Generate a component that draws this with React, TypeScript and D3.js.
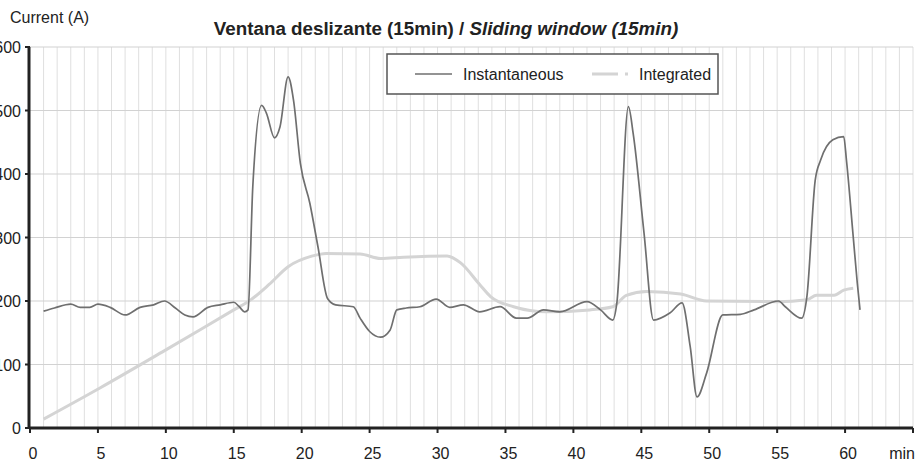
import React, { useRef, useEffect } from "react";
import * as d3 from "d3";

// Instantaneous current (minutes / amperes)
const instTime = [
  1, 1.8, 3, 3.7, 4.4, 5, 5.9, 7, 8.1, 9.1, 9.9, 10.7, 11.4, 12, 13.1, 14, 15,
  15.4, 15.8, 16.05, 16.4, 17.05, 17.4, 18, 18.4, 19, 19.4, 19.9, 20.6, 21.2,
  21.9, 22.5, 23.8, 24.3, 25, 25.8, 26.5, 27, 27.7, 28.7, 29.9, 30.9, 31.9,
  33.1, 34.6, 35.8, 36.6, 37.8, 39, 41, 42, 42.9, 43.2, 44.05, 44.4, 45.2,
  45.9, 47.1, 48, 48.6, 49.1, 49.8, 51, 52.3, 53.3, 55.1, 55.6, 56.8, 57.2,
  57.8, 58.2, 59.1, 59.9, 60.1, 60.6, 60.9, 61.1,
];
const instValue = [
  184, 189, 195, 190, 190, 195, 190, 178, 190, 194, 200, 189, 178, 175, 190,
  194, 198, 191, 183, 186, 380, 508, 496, 457, 474, 553, 516, 417, 354, 285,
  204, 194, 191, 173, 152, 143, 154, 186, 189, 191, 203, 190, 194, 183, 191,
  173, 173, 186, 183, 199, 186, 170, 197, 506, 464, 307, 170, 181, 197, 128,
  49, 86, 178, 179, 186, 200, 191, 173, 209, 390, 422, 454, 459, 422, 301,
  228, 186,
];

// Integrated (15 min sliding window)
const intTime = [
  1, 5.15, 10, 15, 16.2, 17.6, 19, 20.8, 21.8, 24.3, 25.8, 27.5, 30.7, 31.7,
  33.1, 33.9, 35.6, 38, 41.2, 42.9, 43.9, 45.4, 47.9, 49.8, 55, 57.2, 57.9,
  59.2, 59.9, 60.6,
];
const intValue = [
  14, 63, 123, 186, 201, 226, 254, 271, 275, 274, 267, 269, 271, 260, 226,
  207, 191, 183, 186, 191, 209, 215, 211, 200, 199, 202, 209, 209, 217, 220,
];

const xTicks = [0, 5, 10, 15, 20, 25, 30, 35, 40, 45, 50, 55, 60];
const yTicks = [0, 100, 200, 300, 400, 500, 600];

const W = 924;
const H = 466;
const FONT = "'Liberation Sans', Arial, sans-serif";

export default function App() {
  const ref = useRef<SVGSVGElement>(null);

  useEffect(() => {
    if (!ref.current) return;
    const svg = d3.select(ref.current);
    svg.selectAll("*").remove();

    const x = d3.scaleLinear().domain([0, 65]).range([30, 913]);
    const y = d3.scaleLinear().domain([0, 600]).range([428, 47]);

    // grid
    svg
      .append("g")
      .selectAll("line")
      .data(d3.range(1, 66))
      .enter()
      .append("line")
      .attr("x1", (d) => x(d))
      .attr("x2", (d) => x(d))
      .attr("y1", y(600))
      .attr("y2", y(0))
      .attr("stroke", "#dfdfdf")
      .attr("stroke-width", 1);
    svg
      .append("g")
      .selectAll("line")
      .data(yTicks.slice(1))
      .enter()
      .append("line")
      .attr("x1", x(0))
      .attr("x2", x(65))
      .attr("y1", (d) => y(d))
      .attr("y2", (d) => y(d))
      .attr("stroke", "#d2d2d2")
      .attr("stroke-width", 1.2);

    // lines
    const line = d3
      .line<[number, number]>()
      .x((d) => x(d[0]))
      .y((d) => y(d[1]))
      .curve(d3.curveMonotoneX);

    const intData = intTime.map((t, i) => [t, intValue[i]] as [number, number]);
    const instData = instTime.map((t, i) => [t, instValue[i]] as [number, number]);

    svg
      .append("path")
      .attr("d", line(intData))
      .attr("fill", "none")
      .attr("stroke", "#d4d4d4")
      .attr("stroke-width", 3);
    svg
      .append("path")
      .attr("d", line(instData))
      .attr("fill", "none")
      .attr("stroke", "#6f6f6f")
      .attr("stroke-width", 1.7)
      .attr("stroke-linejoin", "round");

    // axes
    svg
      .append("line")
      .attr("x1", x(0) - 1)
      .attr("x2", x(65))
      .attr("y1", y(0))
      .attr("y2", y(0))
      .attr("stroke", "#222")
      .attr("stroke-width", 3);
    svg
      .append("line")
      .attr("x1", x(0) - 1)
      .attr("x2", x(0) - 1)
      .attr("y1", y(600))
      .attr("y2", y(0))
      .attr("stroke", "#222")
      .attr("stroke-width", 3);

    const xt = svg.append("g");
    xt.selectAll("line")
      .data([...xTicks, 65])
      .enter()
      .append("line")
      .attr("x1", (d) => x(d))
      .attr("x2", (d) => x(d))
      .attr("y1", y(0))
      .attr("y2", y(0) + 5)
      .attr("stroke", "#222")
      .attr("stroke-width", 2);
    xt.selectAll("text")
      .data(xTicks)
      .enter()
      .append("text")
      .attr("x", (d) => x(d) + 3)
      .attr("y", 459)
      .attr("text-anchor", "middle")
      .attr("font-family", FONT)
      .attr("font-size", 16)
      .attr("fill", "#222")
      .text((d) => d);
    xt.append("text")
      .attr("x", x(65) + 2)
      .attr("y", 459)
      .attr("text-anchor", "end")
      .attr("font-family", FONT)
      .attr("font-size", 16)
      .attr("fill", "#222")
      .text("min");

    const yt = svg.append("g");
    yt.selectAll("line")
      .data(yTicks)
      .enter()
      .append("line")
      .attr("x1", x(0) - 5)
      .attr("x2", x(0))
      .attr("y1", (d) => y(d))
      .attr("y2", (d) => y(d))
      .attr("stroke", "#222")
      .attr("stroke-width", 2);
    yt.selectAll("text")
      .data(yTicks)
      .enter()
      .append("text")
      .attr("x", 21)
      .attr("y", (d) => y(d) + 6)
      .attr("text-anchor", "end")
      .attr("font-family", FONT)
      .attr("font-size", 16)
      .attr("fill", "#222")
      .text((d) => d);

    // titles
    svg
      .append("text")
      .attr("x", 10)
      .attr("y", 22.5)
      .attr("font-family", FONT)
      .attr("font-size", 16)
      .attr("fill", "#222")
      .text("Current (A)");
    const title = svg
      .append("text")
      .attr("x", 446)
      .attr("y", 35)
      .attr("text-anchor", "middle")
      .attr("font-family", FONT)
      .attr("font-size", 18.8)
      .attr("font-weight", "bold")
      .attr("fill", "#222");
    title.append("tspan").text("Ventana deslizante (15min) / ");
    title.append("tspan").attr("font-style", "italic").text("Sliding window (15min)");

    // legend
    const lg = svg.append("g");
    lg.append("rect")
      .attr("x", 387)
      .attr("y", 54)
      .attr("width", 331)
      .attr("height", 40)
      .attr("fill", "#fff")
      .attr("stroke", "#555")
      .attr("stroke-width", 1.5);
    lg.append("line")
      .attr("x1", 415)
      .attr("x2", 452)
      .attr("y1", 74)
      .attr("y2", 74)
      .attr("stroke", "#6f6f6f")
      .attr("stroke-width", 1.7);
    lg.append("text")
      .attr("x", 463)
      .attr("y", 80)
      .attr("font-family", FONT)
      .attr("font-size", 16)
      .attr("fill", "#222")
      .text("Instantaneous");
    lg.append("line")
      .attr("x1", 592)
      .attr("x2", 628)
      .attr("y1", 74)
      .attr("y2", 74)
      .attr("stroke", "#d4d4d4")
      .attr("stroke-width", 3)
      .attr("stroke-dasharray", "26,7,5");
    lg.append("text")
      .attr("x", 639)
      .attr("y", 80)
      .attr("font-family", FONT)
      .attr("font-size", 16)
      .attr("fill", "#222")
      .text("Integrated");
  }, []);

  return (
    <svg
      ref={ref}
      width={W}
      height={H}
      viewBox={`0 0 ${W} ${H}`}
      style={{ position: "absolute", left: 0, top: 0, background: "#fff" }}
    />
  );
}
